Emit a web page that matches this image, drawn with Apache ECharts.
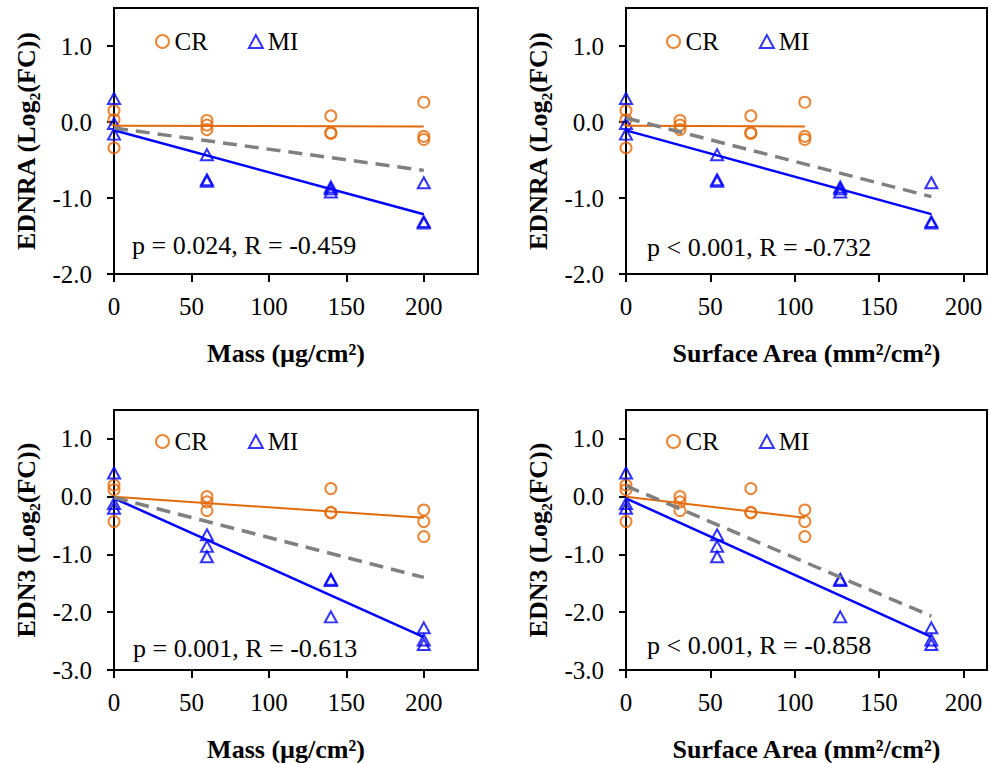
<!DOCTYPE html>
<html><head><meta charset="utf-8">
<script src="https://cdn.jsdelivr.net/npm/echarts@6/dist/echarts.min.js"></script>
<style>html,body{margin:0;padding:0;background:#fff}#c{width:989px;height:763px}</style>
</head><body><div id="c"></div>
<script>
// ---- data ----
const massCR = [0,0,0, 60,60,60, 140,140,140, 200,200,200];
const massMI = [0,0,0, 60,60,60, 140,140,140, 200,200,200];
const areaCR = [0,0,0, 32,32,32, 74,74,74, 106,106,106];
const areaMI = [0,0,0, 54,54,54, 127,127,127, 181,181,181];
const ednraCR = [0.15,0.03,-0.34, 0.02,-0.04,-0.10, 0.08,-0.14,-0.15, 0.26,-0.19,-0.23];
const ednraMI = [0.31,-0.02,-0.16, -0.43,-0.76,-0.78, -0.855,-0.88,-0.92, -0.80,-1.31,-1.33];
const edn3CR = [0.20,0.12,-0.43, 0.00,-0.09,-0.24, 0.14,-0.27,-0.28, -0.23,-0.43,-0.69];
const edn3MI = [0.41,-0.12,-0.20, -0.66,-0.86,-1.04, -1.43,-1.45,-2.08, -2.27,-2.48,-2.56];
const xTicks = [0, 50, 100, 150, 200];
const yTicksTop = [-2, -1, 0, 1];
const yTicksBottom = [-3, -2, -1, 0, 1];
const legendNames = ['CR', 'MI'];
const statsText = ['p = 0.024, R = -0.459', 'p < 0.001, R = -0.732', 'p = 0.001, R = -0.613', 'p < 0.001, R = -0.858'];
const xTitles = ['Mass (µg/cm²)', 'Surface Area (mm²/cm²)'];
const yTitles = ['EDNRA (Log₂(FC))', 'EDN3 (Log₂(FC))'];

// ---- styling ----
const ORANGE = '#E36A0A', BLUE = '#0000FF', GRAY = '#808080';
const FONT = 'Liberation Serif';

function fit(xs, ys) {
  const n = xs.length;
  const mx = xs.reduce((a, b) => a + b, 0) / n;
  const my = ys.reduce((a, b) => a + b, 0) / n;
  let sxy = 0, sxx = 0;
  for (let i = 0; i < n; i++) { sxy += (xs[i] - mx) * (ys[i] - my); sxx += (xs[i] - mx) ** 2; }
  const b = sxy / sxx, a = my - b * mx;
  const lo = Math.min(...xs), hi = Math.max(...xs);
  return [[lo, a + b * lo], [hi, a + b * hi]];
}
const zip = (xs, ys) => xs.map((x, i) => [x, ys[i]]);

const panels = [
  {grid: {left: 114, top: 8, width: 364, height: 266}, xMax: 235, yMin: -2, yTicks: yTicksTop, xCR: massCR, xMI: massMI, yCR: ednraCR, yMI: ednraMI, xt: 0, yt: 0, stat: {x: 132, y: 247}, leg: {left: 150, top: 24}, xPad: [0, 20, 0, 0]},
  {grid: {left: 626, top: 8, width: 361, height: 266}, xMax: 214, yMin: -2, yTicks: yTicksTop, xCR: areaCR, xMI: areaMI, yCR: ednraCR, yMI: ednraMI, xt: 1, yt: 0, stat: {x: 647, y: 249}, leg: {left: 661, top: 24}, xPad: [0, 0, 0, 0]},
  {grid: {left: 114, top: 410, width: 364, height: 266}, xMax: 235, yMin: -3, yTicks: yTicksBottom, xCR: massCR, xMI: massMI, yCR: edn3CR, yMI: edn3MI, xt: 0, yt: 1, stat: {x: 133, y: 650}, leg: {left: 150, top: 424}, xPad: [0, 20, 0, 0]},
  {grid: {left: 626, top: 410, width: 361, height: 266}, xMax: 214, yMin: -3, yTicks: yTicksBottom, xCR: areaCR, xMI: areaMI, yCR: edn3CR, yMI: edn3MI, xt: 1, yt: 1, stat: {x: 647, y: 647}, leg: {left: 661, top: 424}, xPad: [0, 0, 0, 0]}
];

const option = {
  animation: false,
  backgroundColor: '#fff',
  textStyle: {fontFamily: FONT},
  grid: [], xAxis: [], yAxis: [], series: [], legend: [], graphic: []
};

panels.forEach((p, i) => {
  option.grid.push(Object.assign({show: true, borderColor: '#000', borderWidth: 2, backgroundColor: 'transparent'}, p.grid));
  option.xAxis.push({
    type: 'value', gridIndex: i, min: 0, max: p.xMax,
    name: xTitles[p.xt], nameLocation: 'middle', nameGap: 66,
    nameTextStyle: {fontFamily: FONT, fontSize: 26, fontWeight: 'bold', color: '#000', padding: p.xPad},
    axisLine: {show: true, onZero: false, lineStyle: {color: '#000', width: 2}},
    axisTick: {show: true, inside: false, length: 8, customValues: xTicks, lineStyle: {color: '#000', width: 2}},
    axisLabel: {customValues: xTicks, margin: 20, fontFamily: FONT, fontSize: 25, color: '#000', formatter: v => String(v)},
    splitLine: {show: false}
  });
  option.yAxis.push({
    type: 'value', gridIndex: i, min: p.yMin, max: 1.5,
    name: yTitles[p.yt], nameLocation: 'middle', nameGap: 75,
    nameTextStyle: {fontFamily: FONT, fontSize: 26, fontWeight: 'bold', color: '#000'},
    axisLine: {show: true, onZero: false, lineStyle: {color: '#000', width: 2}},
    axisTick: {show: true, inside: false, length: 7, customValues: p.yTicks, lineStyle: {color: '#000', width: 2}},
    axisLabel: {customValues: p.yTicks, margin: 22, fontFamily: FONT, fontSize: 25, color: '#000', formatter: v => v.toFixed(1)},
    splitLine: {show: false}
  });
  option.series.push(
    {name: 'CR', type: 'scatter', xAxisIndex: i, yAxisIndex: i, symbol: 'circle', symbolSize: 11,
     itemStyle: {color: 'rgba(0,0,0,0)', borderColor: ORANGE, borderWidth: 2}, data: zip(p.xCR, p.yCR), z: 2},
    {name: 'MI', type: 'scatter', xAxisIndex: i, yAxisIndex: i, symbol: 'triangle', symbolSize: [12, 11],
     itemStyle: {color: 'rgba(0,0,0,0)', borderColor: BLUE, borderWidth: 2}, data: zip(p.xMI, p.yMI), z: 2},
    {name: 'CR fit', type: 'line', xAxisIndex: i, yAxisIndex: i, symbol: 'none', silent: true,
     lineStyle: {color: ORANGE, width: 2}, data: fit(p.xCR, p.yCR), z: 3},
    {name: 'MI fit', type: 'line', xAxisIndex: i, yAxisIndex: i, symbol: 'none', silent: true,
     lineStyle: {color: BLUE, width: 2.5}, data: fit(p.xMI, p.yMI), z: 3},
    {name: 'All fit', type: 'line', xAxisIndex: i, yAxisIndex: i, symbol: 'none', silent: true,
     lineStyle: {color: GRAY, width: 3.5, type: [14, 8]}, data: fit(p.xCR.concat(p.xMI), p.yCR.concat(p.yMI)), z: 4}
  );
  option.legend.push({
    left: p.leg.left, top: p.leg.top, orient: 'horizontal', itemGap: 40, itemWidth: 14, itemHeight: 13,
    selectedMode: false,
    textStyle: {fontFamily: FONT, fontSize: 25, color: '#000'},
    data: [
      {name: legendNames[0], icon: 'circle', itemStyle: {color: 'rgba(0,0,0,0)', borderColor: ORANGE, borderWidth: 2}},
      {name: legendNames[1], icon: 'triangle', itemStyle: {color: 'rgba(0,0,0,0)', borderColor: BLUE, borderWidth: 2}}
    ]
  });
  option.graphic.push({
    type: 'text', left: p.stat.x, top: p.stat.y - 15,
    style: {text: statsText[i], font: '26px ' + FONT, fill: '#000'}
  });
});

const chart = echarts.init(document.getElementById('c'), null, {renderer: 'svg'});
chart.setOption(option);
</script>
</body></html>
